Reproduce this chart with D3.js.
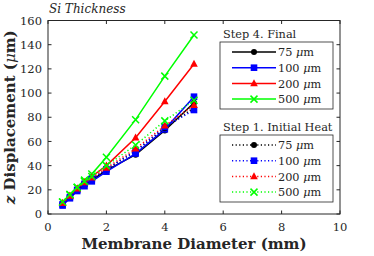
<!DOCTYPE html>
<html><head><meta charset="utf-8">
<script src="https://cdn.jsdelivr.net/npm/d3@7"></script>
<style>body{margin:0;background:#fff}svg{display:block}</style>
</head><body><svg id="c" width="374" height="256" font-family="'DejaVu Serif', serif"></svg>
<script>
const diameters = [0.5, 0.75, 1, 1.25, 1.5, 2, 3, 4, 5];
const thicknessLabels = ["75", "100", "200", "500"];
const finalValues = [
  [8, 14, 20, 24, 28, 36, 49, 69, 92],
  [7, 13, 19, 23, 27, 35, 50, 70, 97],
  [9, 15, 21, 26, 31, 40, 63, 93, 124],
  [10, 16, 22, 28, 33, 47, 78, 114, 148]
];
const initialValues = [
  [8, 14, 20, 25, 29, 37, 52, 71, 88],
  [8, 14, 20, 25, 29, 37, 52, 72, 86],
  [9, 15, 21, 26, 30, 38, 54, 73, 90],
  [10, 16, 22, 27, 31, 40, 57, 77, 94]
];
const xTicks = [0, 2, 4, 6, 8, 10];
const yTicks = [0, 20, 40, 60, 80, 100, 120, 140, 160];
const colors = ["#000000", "#0000ff", "#ff0000", "#00ff00"];
const shapes = ["circle", "square", "triangle", "cross"];

const svg = d3.select("#c");
const ink = "#262626";
const L = 48, R = 340, T = 20.5, B = 214;
const x = d3.scaleLinear().domain([0, 10]).range([L, R]);
const y = d3.scaleLinear().domain([0, 160]).range([B, T]);

function marker(g, shape, color, cx, cy) {
  if (shape === "circle") g.append("circle").attr("cx", cx).attr("cy", cy).attr("r", 3).attr("fill", color);
  else if (shape === "square") g.append("rect").attr("x", cx - 3.3).attr("y", cy - 3.3).attr("width", 6.6).attr("height", 6.6).attr("fill", color);
  else if (shape === "triangle") g.append("path").attr("d", `M${cx},${cy-4.2}L${cx+3.8},${cy+2.8}L${cx-3.8},${cy+2.8}Z`).attr("fill", color);
  else g.append("path").attr("d", `M${cx-3.5},${cy-3.5}L${cx+3.5},${cy+3.5}M${cx-3.5},${cy+3.5}L${cx+3.5},${cy-3.5}`).attr("stroke", color).attr("stroke-width", 1.5);
}

const plot = svg.append("g");
const line = d3.line().x((d, i) => x(diameters[i])).y(d => y(d));
function drawSeries(vals, dashed) {
  vals.forEach((s, k) => {
    const p = plot.append("path").attr("d", line(s)).attr("fill", "none").attr("stroke", colors[k]).attr("stroke-width", 1.5);
    if (dashed) p.attr("stroke-dasharray", "1.2,2.4");
    s.forEach((v, i) => marker(plot, shapes[k], colors[k], x(diameters[i]), y(v)));
  });
}
drawSeries(finalValues, false);
drawSeries(initialValues, true);

const ax = svg.append("g");
ax.append("rect").attr("x", L).attr("y", T).attr("width", R - L).attr("height", B - T).attr("fill", "none").attr("stroke", ink).attr("stroke-width", 1);
const tl = 3.5;
xTicks.forEach(t => {
  ax.append("line").attr("x1", x(t)).attr("x2", x(t)).attr("y1", B).attr("y2", B - tl).attr("stroke", ink);
  ax.append("line").attr("x1", x(t)).attr("x2", x(t)).attr("y1", T).attr("y2", T + tl).attr("stroke", ink);
  ax.append("text").attr("x", x(t)).attr("y", B + 16.5).attr("text-anchor", "middle").attr("font-size", 11.5).attr("fill", ink).text(t);
});
yTicks.forEach(t => {
  ax.append("line").attr("x1", L).attr("x2", L + tl).attr("y1", y(t)).attr("y2", y(t)).attr("stroke", ink);
  ax.append("line").attr("x1", R).attr("x2", R - tl).attr("y1", y(t)).attr("y2", y(t)).attr("stroke", ink);
  ax.append("text").attr("x", L - 6).attr("y", y(t) + 4.2).attr("text-anchor", "end").attr("font-size", 11.5).attr("fill", ink).text(t);
});

svg.append("text").attr("x", 194).attr("y", 248.5).attr("text-anchor", "middle").attr("font-size", 15).attr("font-weight", "bold").attr("fill", ink).text("Membrane Diameter (mm)");
const yl = svg.append("text").attr("transform", `translate(15,${(T + B) / 2}) rotate(-90)`).attr("text-anchor", "middle").attr("font-size", 15).attr("font-weight", "bold").attr("fill", ink);
yl.append("tspan").attr("font-style", "italic").text("z");
yl.append("tspan").text(" Displacement (");
yl.append("tspan").attr("font-style", "italic").attr("font-weight", "normal").text("μ");
yl.append("tspan").text("m)");
svg.append("text").attr("x", L + 1).attr("y", 13).attr("font-size", 12).attr("font-style", "italic").attr("fill", ink).text("Si Thickness");

function legend(title, top, dashed) {
  const g = svg.append("g");
  g.append("rect").attr("x", 219).attr("y", top - 13).attr("width", 120).attr("height", 14).attr("fill", "#fff");
  g.append("text").attr("x", 223).attr("y", top - 1.5).attr("font-size", 11.3).attr("fill", ink).text(title);
  g.append("rect").attr("x", 220).attr("y", top + 3).attr("width", 113).attr("height", 67).attr("fill", "#fff").attr("stroke", ink).attr("stroke-width", 0.8);
  thicknessLabels.forEach((lab, k) => {
    const cy = top + 13 + k * 15.7;
    const p = g.append("line").attr("x1", 232).attr("x2", 276).attr("y1", cy).attr("y2", cy).attr("stroke", colors[k]).attr("stroke-width", 1.5);
    if (dashed) p.attr("stroke-dasharray", "1.2,2.4");
    marker(g, shapes[k], colors[k], 254, cy);
    const t = g.append("text").attr("x", 278).attr("y", cy + 4.2).attr("font-size", 11.3).attr("fill", ink);
    t.append("tspan").text(lab + " ");
    t.append("tspan").attr("font-style", "italic").text("μ");
    t.append("tspan").text("m");
  });
}
legend("Step 4. Final", 39, false);
legend("Step 1. Initial Heat", 132, true);
</script></body></html>
